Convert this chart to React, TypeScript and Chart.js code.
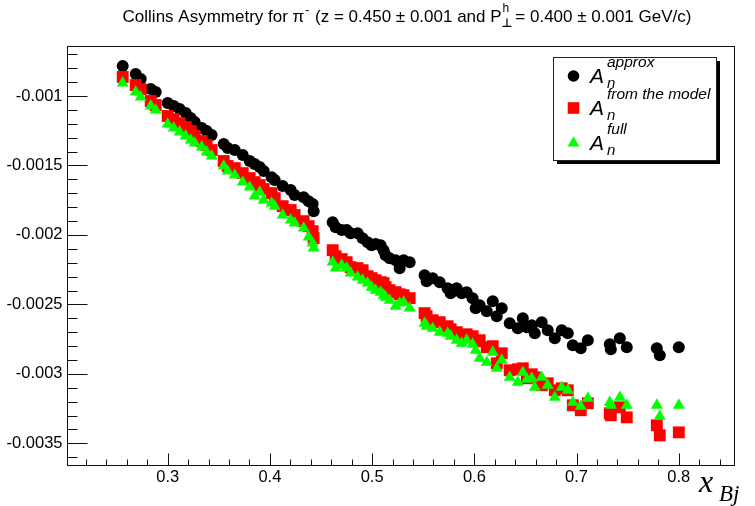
import React, { useEffect, useRef } from "react";
import { Chart, registerables } from "chart.js";

Chart.register(...registerables);

// Bjorken x of each kinematic point
const xBj = [
  0.256, 0.2687, 0.2736, 0.2834, 0.2883, 0.3, 0.3059, 0.3117, 0.3176, 0.3225,
  0.3264, 0.3333, 0.3381, 0.343, 0.3548, 0.3587, 0.3656, 0.3734, 0.3802, 0.3851,
  0.39, 0.3939, 0.4017, 0.4047, 0.4125, 0.4203, 0.4242, 0.433, 0.4379, 0.4418,
  0.4428, 0.4614, 0.4643, 0.4702, 0.4751, 0.479, 0.4858, 0.4907, 0.4956, 0.4995,
  0.5034, 0.5083, 0.5112, 0.5132, 0.5171, 0.523, 0.5269, 0.5308, 0.5367, 0.5513,
  0.5533, 0.5592, 0.5661, 0.5739, 0.5768, 0.5827, 0.5876, 0.5925, 0.5983, 0.6013,
  0.6052, 0.6121, 0.618, 0.6219, 0.6268, 0.6346, 0.6425, 0.6474, 0.6513, 0.6562,
  0.6591, 0.6659, 0.6718, 0.6787, 0.6855, 0.6914, 0.6963, 0.7041, 0.711, 0.7325,
  0.7335, 0.7423, 0.7491, 0.7785, 0.7814, 0.8,
];

// A_n^approx
const approxValues = [
  -0.784e-3, -0.841e-3, -0.878e-3, -0.95e-3, -0.971e-3, -1.05e-3, -1.072e-3, -1.094e-3, -1.122e-3, -1.159e-3,
  -1.187e-3, -1.231e-3, -1.252e-3, -1.281e-3, -1.346e-3, -1.375e-3, -1.389e-3, -1.425e-3, -1.468e-3, -1.49e-3,
  -1.511e-3, -1.54e-3, -1.584e-3, -1.605e-3, -1.648e-3, -1.677e-3, -1.713e-3, -1.728e-3, -1.757e-3, -1.778e-3,
  -1.829e-3, -1.908e-3, -1.944e-3, -1.965e-3, -1.965e-3, -1.987e-3, -1.987e-3, -2.023e-3, -2.052e-3, -2.074e-3,
  -2.066e-3, -2.074e-3, -2.11e-3, -2.146e-3, -2.167e-3, -2.182e-3, -2.239e-3, -2.182e-3, -2.196e-3, -2.29e-3,
  -2.333e-3, -2.311e-3, -2.34e-3, -2.383e-3, -2.419e-3, -2.383e-3, -2.419e-3, -2.412e-3, -2.455e-3, -2.527e-3,
  -2.506e-3, -2.549e-3, -2.477e-3, -2.585e-3, -2.527e-3, -2.636e-3, -2.672e-3, -2.6e-3, -2.664e-3, -2.65e-3,
  -2.707e-3, -2.628e-3, -2.686e-3, -2.744e-3, -2.686e-3, -2.707e-3, -2.794e-3, -2.816e-3, -2.758e-3, -2.787e-3,
  -2.823e-3, -2.744e-3, -2.808e-3, -2.816e-3, -2.866e-3, -2.808e-3,
];

// A_n from the model
const modelValues = [
  -0.863e-3, -0.921e-3, -0.95e-3, -1.036e-3, -1.065e-3, -1.144e-3, -1.166e-3, -1.195e-3, -1.223e-3, -1.252e-3,
  -1.288e-3, -1.324e-3, -1.353e-3, -1.389e-3, -1.468e-3, -1.504e-3, -1.519e-3, -1.555e-3, -1.591e-3, -1.62e-3,
  -1.641e-3, -1.67e-3, -1.699e-3, -1.735e-3, -1.793e-3, -1.821e-3, -1.857e-3, -1.901e-3, -1.937e-3, -1.973e-3,
  -2.023e-3, -2.11e-3, -2.153e-3, -2.174e-3, -2.196e-3, -2.232e-3, -2.239e-3, -2.254e-3, -2.297e-3, -2.311e-3,
  -2.326e-3, -2.34e-3, -2.347e-3, -2.376e-3, -2.398e-3, -2.412e-3, -2.427e-3, -2.434e-3, -2.455e-3, -2.563e-3,
  -2.585e-3, -2.614e-3, -2.628e-3, -2.657e-3, -2.679e-3, -2.7e-3, -2.729e-3, -2.715e-3, -2.729e-3, -2.765e-3,
  -2.758e-3, -2.808e-3, -2.801e-3, -2.924e-3, -2.852e-3, -2.974e-3, -2.967e-3, -2.96e-3, -3.032e-3, -3.003e-3,
  -3.025e-3, -3.082e-3, -3.068e-3, -3.118e-3, -3.104e-3, -3.118e-3, -3.226e-3, -3.262e-3, -3.212e-3, -3.284e-3,
  -3.298e-3, -3.241e-3, -3.313e-3, -3.37e-3, -3.443e-3, -3.421e-3,
];

// A_n^full
const fullValues = [
  -0.906e-3, -0.971e-3, -1.007e-3, -1.072e-3, -1.101e-3, -1.202e-3, -1.231e-3, -1.259e-3, -1.288e-3, -1.317e-3,
  -1.339e-3, -1.367e-3, -1.403e-3, -1.432e-3, -1.504e-3, -1.54e-3, -1.569e-3, -1.62e-3, -1.656e-3, -1.72e-3,
  -1.692e-3, -1.749e-3, -1.771e-3, -1.793e-3, -1.857e-3, -1.893e-3, -1.915e-3, -1.951e-3, -2.016e-3, -2.059e-3,
  -2.095e-3, -2.196e-3, -2.239e-3, -2.218e-3, -2.239e-3, -2.275e-3, -2.304e-3, -2.326e-3, -2.347e-3, -2.376e-3,
  -2.398e-3, -2.412e-3, -2.434e-3, -2.448e-3, -2.47e-3, -2.513e-3, -2.491e-3, -2.484e-3, -2.527e-3, -2.636e-3,
  -2.657e-3, -2.672e-3, -2.7e-3, -2.708e-3, -2.729e-3, -2.758e-3, -2.78e-3, -2.758e-3, -2.787e-3, -2.83e-3,
  -2.888e-3, -2.917e-3, -2.844e-3, -2.96e-3, -2.902e-3, -3.025e-3, -3.061e-3, -2.989e-3, -3.039e-3, -3.032e-3,
  -3.097e-3, -3.025e-3, -3.082e-3, -3.169e-3, -3.097e-3, -3.118e-3, -3.205e-3, -3.234e-3, -3.176e-3, -3.205e-3,
  -3.226e-3, -3.169e-3, -3.226e-3, -3.226e-3, -3.306e-3, -3.226e-3,
];

const xMajorTicks = [0.3, 0.4, 0.5, 0.6, 0.7, 0.8];
const xTickLabels = ["0.3", "0.4", "0.5", "0.6", "0.7", "0.8"];
const yMajorTicks = [-0.001, -0.0015, -0.002, -0.0025, -0.003, -0.0035];
const yTickLabels = ["-0.001", "-0.0015", "-0.002", "-0.0025", "-0.003", "-0.0035"];
const X_MINOR_STEP = 0.02;
const Y_MINOR_STEP = 0.0001;

const X_MIN = 0.2015;
const X_MAX = 0.854;
const Y_MIN = -0.003656;
const Y_MAX = -0.00064;

const SANS = '"Liberation Sans", Arial, Helvetica, sans-serif';
const SERIF = '"Liberation Serif", "Times New Roman", serif';

const toPoints = (ys: number[]) => xBj.map((x, i) => ({ x, y: ys[i] }));

function drawMarker(ctx: CanvasRenderingContext2D, kind: string, x: number, y: number, color: string) {
  ctx.save();
  ctx.fillStyle = color;
  ctx.beginPath();
  if (kind === "circle") {
    ctx.arc(x, y, 5.8, 0, Math.PI * 2);
  } else if (kind === "rect") {
    ctx.rect(x - 5.8, y - 5.8, 11.6, 11.6);
  } else {
    ctx.moveTo(x, y - 6.8);
    ctx.lineTo(x + 5.9, y + 3.4);
    ctx.lineTo(x - 5.9, y + 3.4);
    ctx.closePath();
  }
  ctx.fill();
  ctx.restore();
}

const rootFrame = {
  id: "rootFrame",
  beforeDraw(chart: any) {
    const ctx = chart.ctx as CanvasRenderingContext2D;
    ctx.save();
    ctx.fillStyle = "#ffffff";
    ctx.fillRect(0, 0, chart.width, chart.height);
    ctx.restore();
  },
  afterDatasetsDraw(chart: any) {
    const ctx = chart.ctx as CanvasRenderingContext2D;
    const xs = chart.scales.x;
    const ys = chart.scales.y;
    const { left, right, top, bottom } = chart.chartArea;
    const L = Math.round(left) + 0.5;
    const R = Math.round(right) + 0.5;
    const T = Math.round(top) + 0.5;
    const B = Math.round(bottom) + 0.5;

    ctx.save();
    ctx.strokeStyle = "#111";
    ctx.lineWidth = 1;
    ctx.strokeRect(L, T, R - L, B - T);

    // x ticks (inward from the bottom axis)
    ctx.beginPath();
    for (let v = Math.ceil(X_MIN / X_MINOR_STEP) * X_MINOR_STEP; v <= X_MAX; v += X_MINOR_STEP) {
      const px = Math.round(xs.getPixelForValue(v)) + 0.5;
      ctx.moveTo(px, B);
      ctx.lineTo(px, B - 6);
    }
    xMajorTicks.forEach((v) => {
      const px = Math.round(xs.getPixelForValue(v)) + 0.5;
      ctx.moveTo(px, B);
      ctx.lineTo(px, B - 12);
    });
    // y ticks (inward from the left axis)
    for (let v = Math.ceil(Y_MIN / Y_MINOR_STEP) * Y_MINOR_STEP; v <= Y_MAX; v += Y_MINOR_STEP) {
      const py = Math.round(ys.getPixelForValue(v)) + 0.5;
      ctx.moveTo(L, py);
      ctx.lineTo(L + 10, py);
    }
    yMajorTicks.forEach((v) => {
      const py = Math.round(ys.getPixelForValue(v)) + 0.5;
      ctx.moveTo(L, py);
      ctx.lineTo(L + 20, py);
    });
    ctx.stroke();

    // tick labels
    ctx.fillStyle = "#000";
    ctx.font = `16.5px ${SANS}`;
    ctx.textAlign = "center";
    ctx.textBaseline = "middle";
    xMajorTicks.forEach((v, i) => {
      ctx.fillText(xTickLabels[i], xs.getPixelForValue(v), B + 12);
    });
    ctx.textAlign = "right";
    yMajorTicks.forEach((v, i) => {
      ctx.fillText(yTickLabels[i], L - 5, ys.getPixelForValue(v));
    });
    ctx.restore();
  },
  afterDraw(chart: any) {
    const ctx = chart.ctx as CanvasRenderingContext2D;
    ctx.save();
    ctx.fillStyle = "#000";
    ctx.textBaseline = "alphabetic";
    ctx.textAlign = "left";

    // Title
    const mainFont = `17px ${SANS}`;
    const smallFont = `12px ${SANS}`;
    const t1 = "Collins Asymmetry for \u03c0";
    const t2 = " (z = 0.450 \u00b1 0.001 and P";
    const t3 = " = 0.400 \u00b1 0.001 GeV/c)";
    ctx.font = mainFont;
    const w1 = ctx.measureText(t1).width;
    const w2 = ctx.measureText(t2).width;
    const w3 = ctx.measureText(t3).width;
    ctx.font = smallFont;
    const wm = ctx.measureText("-").width + 2;
    const wh = 9;
    const total = w1 + wm + w2 + wh + w3;
    let tx = 407 - total / 2;
    const base = 22;
    ctx.font = mainFont;
    ctx.fillText(t1, tx, base);
    tx += w1;
    ctx.font = smallFont;
    ctx.fillText("-", tx + 1, base - 8);
    tx += wm;
    ctx.font = mainFont;
    ctx.fillText(t2, tx, base);
    tx += w2;
    ctx.font = smallFont;
    ctx.fillText("h", tx + 1, base - 10);
    ctx.font = `bold 12px "DejaVu Sans", sans-serif`;
    ctx.fillText("\u22a5", tx, base + 5);
    tx += wh;
    ctx.font = mainFont;
    ctx.fillText(t3, tx, base);

    // Legend box with shadow
    const bx = 553, by = 57, bw = 163, bh = 103;
    ctx.fillStyle = "#000";
    ctx.fillRect(bx + 4, by + 4, bw, bh);
    ctx.fillStyle = "#fff";
    ctx.fillRect(bx, by, bw, bh);
    ctx.strokeStyle = "#222";
    ctx.lineWidth = 1;
    ctx.strokeRect(bx + 0.5, by + 0.5, bw, bh);

    const entries = [
      { kind: "circle", color: "#000000", sup: "approx", base: 83 },
      { kind: "rect", color: "#ff0000", sup: "from the model", base: 115 },
      { kind: "triangle", color: "#00ff00", sup: "full", base: 150 },
    ];
    entries.forEach((e) => {
      drawMarker(ctx, e.kind, 573.5, e.base - 7, e.color);
      ctx.fillStyle = "#000";
      ctx.font = `italic 21px ${SANS}`;
      ctx.fillText("A", 590, e.base);
      ctx.font = `italic 15px ${SANS}`;
      ctx.fillText("n", 607, e.base + 5);
      ctx.font = `italic 15.5px ${SANS}`;
      ctx.fillText(e.sup, 607, e.base - 16);
    });

    // x-axis title
    ctx.fillStyle = "#000";
    ctx.font = `italic 32px ${SERIF}`;
    ctx.fillText("x", 699, 492);
    ctx.font = `italic 23px ${SERIF}`;
    ctx.fillText("Bj", 719, 501);
    ctx.restore();
  },
};

export default function App() {
  const canvasRef = useRef<HTMLCanvasElement | null>(null);

  useEffect(() => {
    if (!canvasRef.current) return;
    const chart = new Chart(canvasRef.current, {
      type: "scatter",
      data: {
        datasets: [
          {
            label: "approx",
            data: toPoints(approxValues),
            pointStyle: "circle",
            pointRadius: 6,
            backgroundColor: "#000000",
            borderColor: "#000000",
            borderWidth: 0,
            order: 3,
          },
          {
            label: "from the model",
            data: toPoints(modelValues),
            pointStyle: "rect",
            pointRadius: 8.4,
            backgroundColor: "#ff0000",
            borderColor: "#ff0000",
            borderWidth: 0,
            order: 2,
          },
          {
            label: "full",
            data: toPoints(fullValues),
            pointStyle: "triangle",
            pointRadius: 6.9,
            backgroundColor: "#00ff00",
            borderColor: "#00ff00",
            borderWidth: 0,
            order: 1,
          },
        ],
      },
      options: {
        animation: false,
        responsive: false,
        devicePixelRatio: 1,
        events: [],
        layout: { padding: { left: 67, top: 46, right: 21, bottom: 41 } },
        plugins: {
          legend: { display: false },
          title: { display: false },
          tooltip: { enabled: false },
        },
        scales: {
          x: { type: "linear", min: X_MIN, max: X_MAX, display: false },
          y: { type: "linear", min: Y_MIN, max: Y_MAX, display: false },
        },
      },
      plugins: [rootFrame],
    });
    return () => chart.destroy();
  }, []);

  return (
    <div style={{ position: "absolute", left: 0, top: 0, width: 755, height: 506 }}>
      <canvas ref={canvasRef} width={755} height={506} />
    </div>
  );
}
